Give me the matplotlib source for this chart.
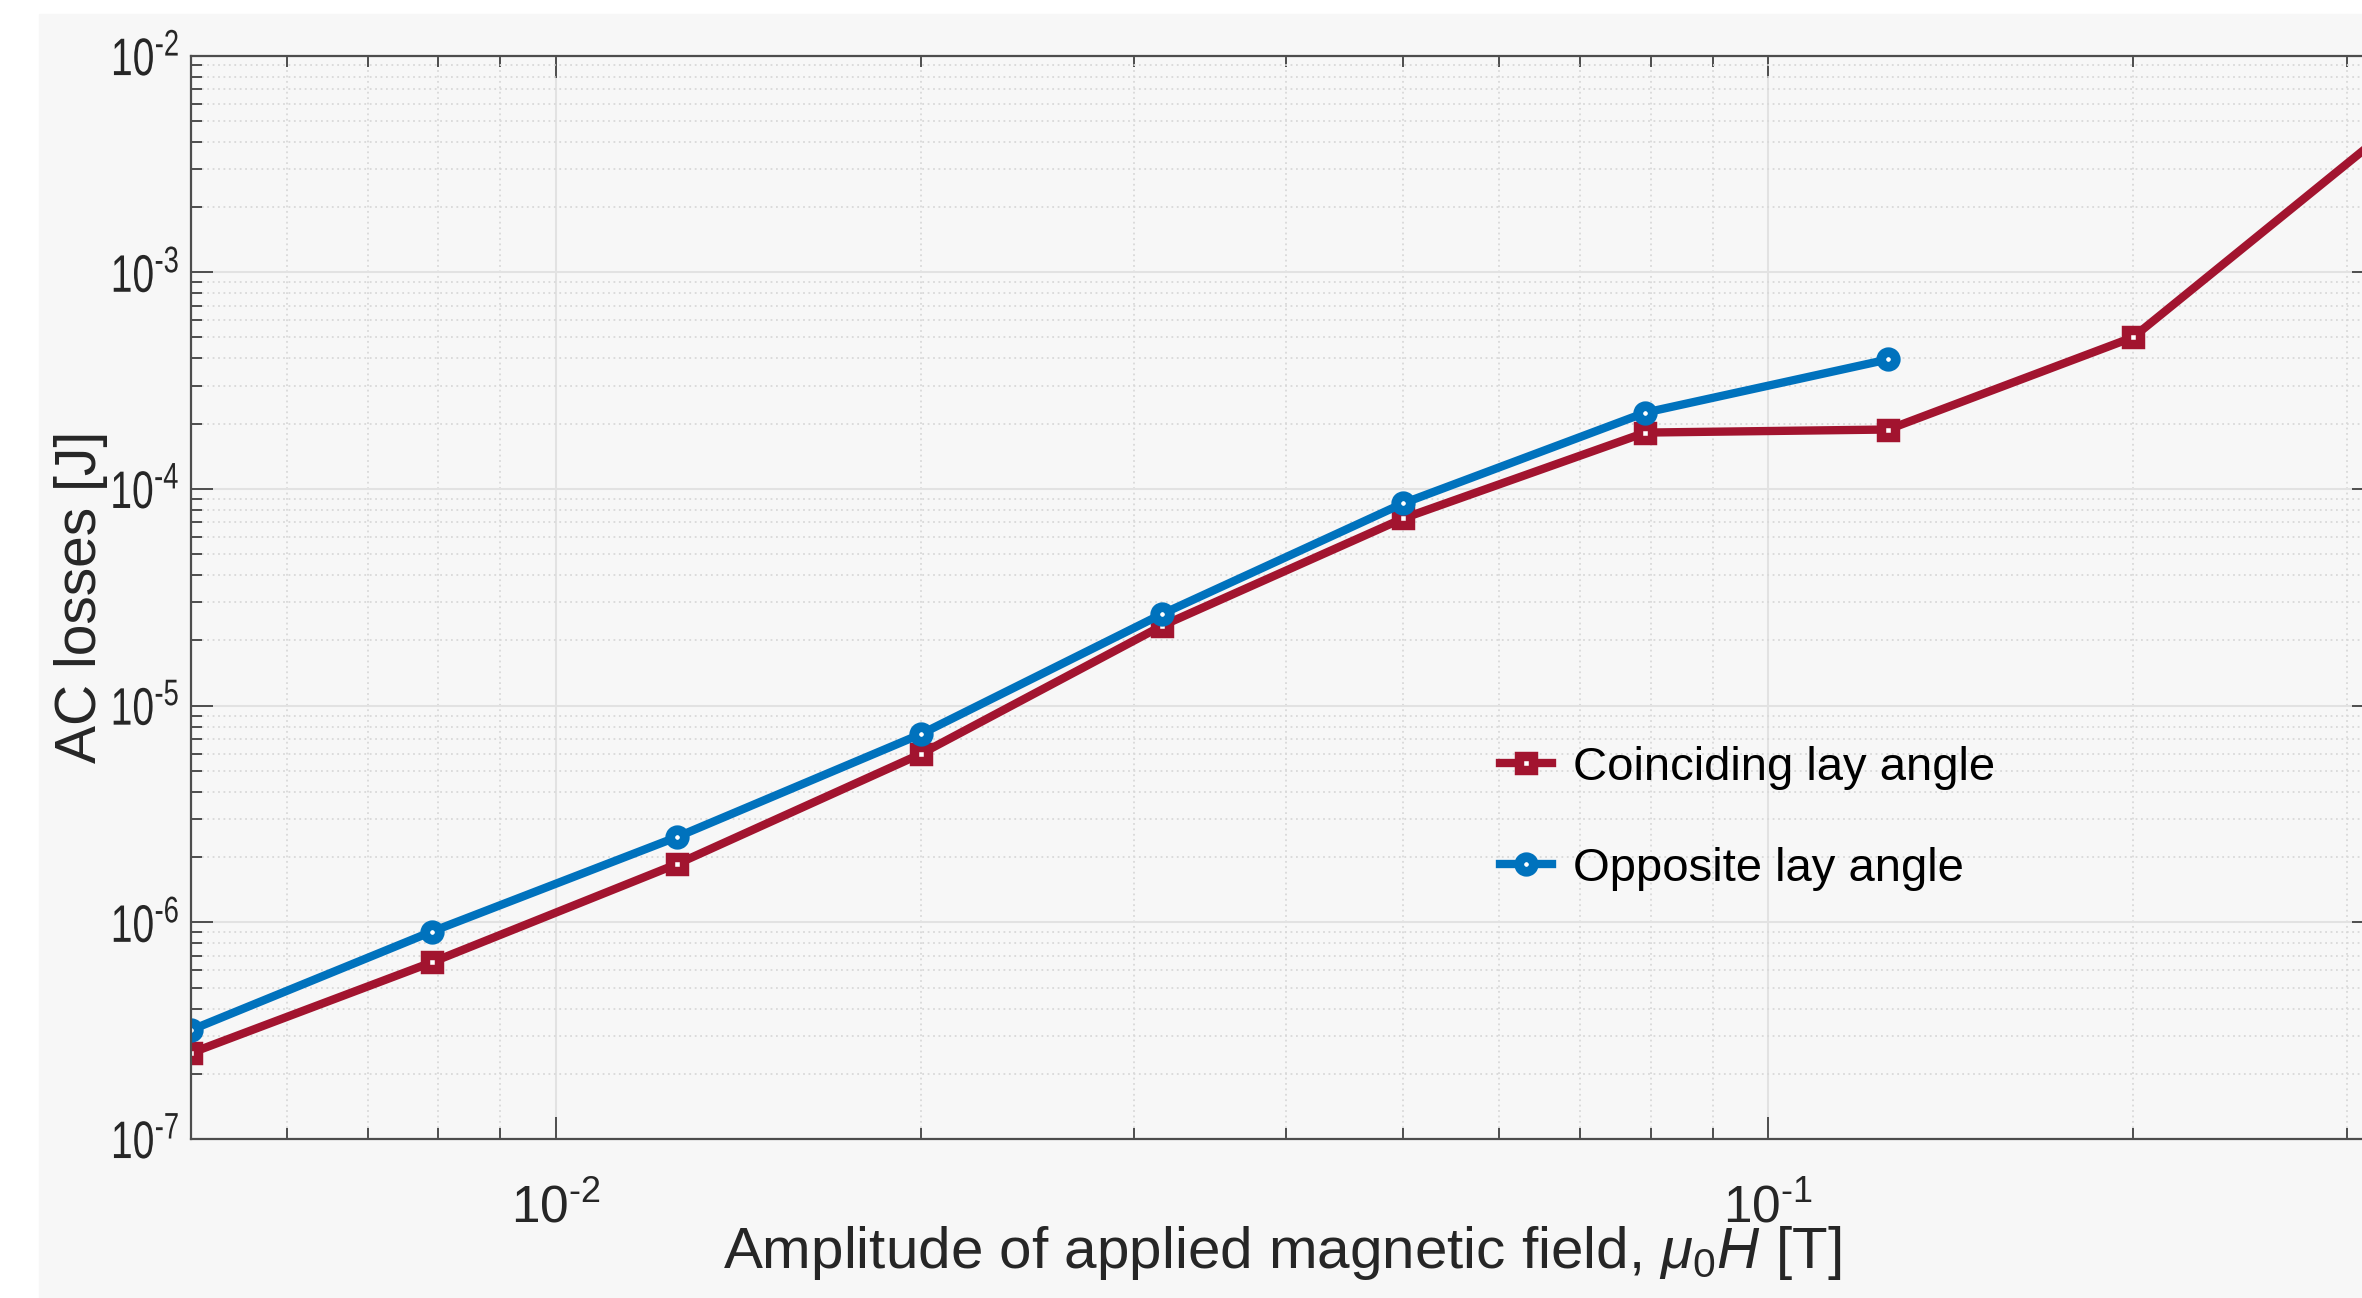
import math
import matplotlib
matplotlib.use("Agg")
import matplotlib.pyplot as plt
from matplotlib.patches import Rectangle
from matplotlib.patheffects import AbstractPathEffect
from matplotlib.transforms import Affine2D
from matplotlib.ticker import NullFormatter, FuncFormatter

plt.rcParams['font.family'] = ['Liberation Sans', 'DejaVu Sans']
plt.rcParams['mathtext.fontset'] = 'custom'
plt.rcParams['mathtext.rm'] = 'Liberation Sans'
plt.rcParams['mathtext.it'] = 'Liberation Sans:italic'
plt.rcParams['mathtext.bf'] = 'Liberation Sans:bold'

# field amplitude [T] and AC losses [J]
field = [0.005, 0.0079, 0.0126, 0.02, 0.0316, 0.05, 0.0792, 0.1256, 0.2, 0.316]
loss_coinciding = [2.49e-7, 6.53e-7, 1.86e-6, 5.98e-6, 2.33e-5, 7.31e-5,
                   1.82e-4, 1.88e-4, 5.01e-4, 4.0e-3]
loss_opposite = [3.18e-7, 9.05e-7, 2.48e-6, 7.38e-6, 2.64e-5, 8.58e-5,
                 2.25e-4, 3.96e-4]

names = ['Coinciding lay angle', 'Opposite lay angle']
colors = ['#A2142F', '#0072BD']
bg = '#f7f7f7'
ink = '#262626'


def pow10(v, pos):
    # 10^-n with a plain hyphen in the exponent
    e = int(round(math.log10(v)))
    sign = r'\text{-}' if e < 0 else ''
    return r'$10^{%s%d}$' % (sign, abs(e))


class Squeeze(AbstractPathEffect):
    """Narrow a text horizontally, keeping its right edge in place."""

    def __init__(self, sx):
        super().__init__()
        self.sx = sx

    def draw_path(self, renderer, gc, tpath, affine, rgbFace=None):
        right = tpath.get_extents(affine).x1
        squeeze = Affine2D().translate(-right, 0).scale(self.sx, 1).translate(right, 0)
        renderer.draw_path(gc, tpath, affine + squeeze, rgbFace)


fig = plt.figure(figsize=(23.62, 12.98), dpi=100, facecolor='white')
fig.patches.append(Rectangle((39 / 2362, 0), 1, 1 - 14 / 1298,
                             transform=fig.transFigure, color=bg, zorder=-10))

ax = fig.add_axes([0.08074, 0.1225, 0.9243, 0.8347])
ax.set_facecolor(bg)
ax.set_xscale('log')
ax.set_yscale('log')

ax.plot(field, loss_coinciding, color=colors[0], lw=6, marker='s',
        ms=10, mew=6.8, mfc='white', mec=colors[0], label=names[0])
ax.plot(field[:len(loss_opposite)], loss_opposite, color=colors[1], lw=6,
        marker='o', ms=10.5, mew=7, mfc='white', mec=colors[1], label=names[1])

ax.set_xlim(0.005, 0.316)
ax.set_ylim(1e-7, 1e-2)

ax.set_axisbelow(True)
ax.grid(which='major', color='#e2e2e2', lw=1.5, ls='-')
ax.grid(which='minor', color='#d9d9d9', lw=1.3, ls=(0, (1, 2)))

ax.tick_params(which='both', direction='in', top=True, right=True,
               colors='#4d4d4d', labelcolor=ink)
ax.tick_params(which='major', length=15.8, width=1.4)
ax.tick_params(which='minor', length=7.9, width=1.4)
ax.tick_params(axis='x', which='major', labelsize=37, pad=32)
ax.tick_params(axis='y', which='major', labelsize=38, pad=8)
ax.xaxis.set_major_formatter(FuncFormatter(pow10))
ax.yaxis.set_major_formatter(FuncFormatter(pow10))
ax.xaxis.set_minor_formatter(NullFormatter())
ax.yaxis.set_minor_formatter(NullFormatter())

for side in ax.spines.values():
    side.set_color('#4d4d4d')
    side.set_linewidth(1.6)

ax.set_xlabel(r'Amplitude of applied magnetic field, $\mu_0H$ [T]',
              fontsize=42, color=ink)
ax.xaxis.set_label_coords(0.5, -0.078)
ax.set_ylabel('AC losses [J]', fontsize=41, color=ink)
ax.yaxis.set_label_coords(-0.038, 0.5)

ax.legend(loc='upper left', bbox_to_anchor=(0.5997, 0.363), frameon=False,
          fontsize=34, borderpad=0, borderaxespad=0, handlelength=1.1,
          handletextpad=0.45, labelspacing=1.21, numpoints=1,
          labelcolor='black')

fig.canvas.draw()
for lab in ax.get_yticklabels():
    lab.set_path_effects([Squeeze(0.74)])

fig.savefig('out.png', dpi=100, facecolor=fig.get_facecolor())
